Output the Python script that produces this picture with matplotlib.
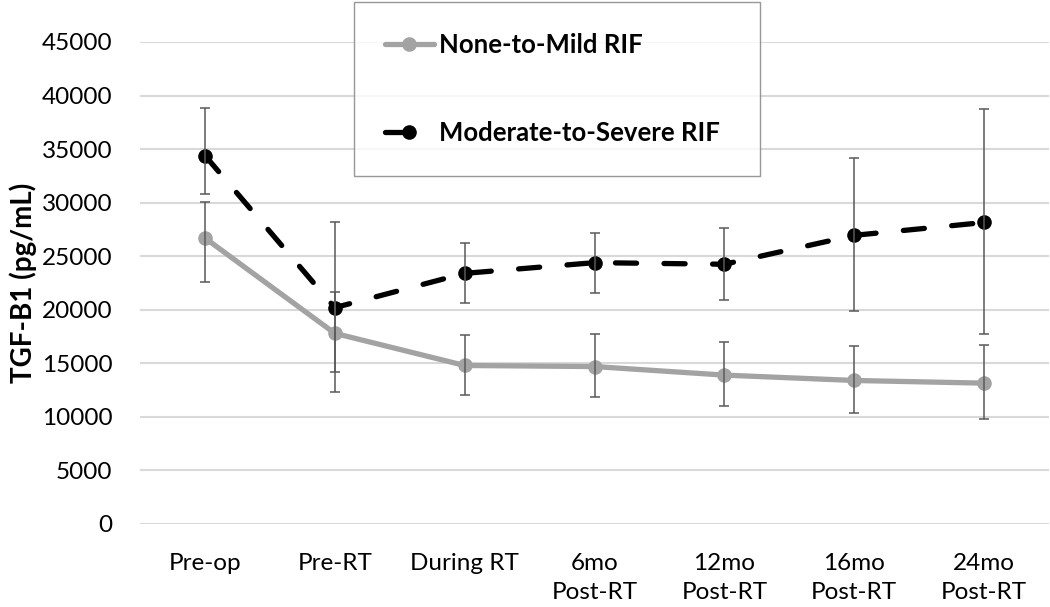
import numpy as np
import matplotlib.pyplot as plt
from matplotlib.lines import Line2D

# values
categories = ["Pre-op", "Pre-RT", "During RT", "6mo\nPost-RT",
              "12mo\nPost-RT", "16mo\nPost-RT", "24mo\nPost-RT"]

mild_mean = [26700, 17800, 14800, 14700, 13900, 13400, 13150]
mild_low = [22600, 12350, 12050, 11900, 11000, 10350, 9800]
mild_high = [30100, 21700, 17600, 17700, 16950, 16600, 16700]

severe_mean = [34400, 20200, 23400, 24400, 24250, 26950, 28150]
severe_low = [30800, 14200, 20600, 21600, 20900, 19850, 17700]
severe_high = [38850, 28200, 26250, 27150, 27600, 34200, 38750]

plt.rcParams['font.family'] = ['Lato', 'DejaVu Sans']

fig = plt.figure(figsize=(10.5, 6.07), dpi=100)
ax = fig.add_axes([140 / 1050, 1 - 524 / 607, 909 / 1050, 482 / 607])

x = np.arange(len(categories))
gray = '#A3A3A3'
err_col = '#595959'

mm = np.array(mild_mean)
sm = np.array(severe_mean)

ax.plot(x, mm, color=gray, lw=3.8, marker='o', ms=9.5,
        solid_capstyle='round', zorder=3)
ln, = ax.plot(x, sm, color='black', lw=3.8, marker='o', ms=9.5,
              dash_capstyle='round', zorder=3)
ln.set_dashes([4.0, 5.2])

ax.errorbar(x, mm, yerr=[mm - np.array(mild_low), np.array(mild_high) - mm],
            fmt='none', ecolor=err_col, elinewidth=1.1, capsize=3.5,
            capthick=1.1, zorder=4)
ax.errorbar(x, sm, yerr=[sm - np.array(severe_low), np.array(severe_high) - sm],
            fmt='none', ecolor=err_col, elinewidth=1.1, capsize=3.5,
            capthick=1.1, zorder=4)

ax.set_xlim(-0.5, len(categories) - 0.5)
ax.set_ylim(0, 45000)
ax.set_yticks(np.arange(0, 45001, 5000))
ax.set_xticks(x)
ax.set_xticklabels(categories, linespacing=1.45)
ax.tick_params(axis='both', length=0, labelsize=17.5, colors='black')
ax.tick_params(axis='y', pad=20)
ax.tick_params(axis='x', pad=21)

ax.grid(axis='y', color='#D9D9D9', lw=1.5, zorder=0)
ax.set_axisbelow(True)
for s in ax.spines.values():
    s.set_visible(False)

ax.set_ylabel('TGF-B1 (pg/mL)', fontsize=20, fontweight='bold', labelpad=3)

# legend proxies: the dashed series shows a single dash leading into the marker
h_mild = Line2D([], [], color=gray, lw=3.8, marker='o', ms=9.5,
                solid_capstyle='round')
h_sev = Line2D([], [], color='black', lw=3.8, marker='o', ms=9.5,
               dash_capstyle='round')
h_sev.set_dashes([3.6, 30])

leg = fig.legend([h_mild, h_sev], ['None-to-Mild RIF', 'Moderate-to-Severe RIF'],
                 loc='upper left',
                 bbox_to_anchor=(354 / 1050, 1 - 173 / 607, 406 / 1050, 171 / 607),
                 mode='expand', prop={'weight': 'bold', 'size': 18.5},
                 frameon=True, fancybox=False, edgecolor='#7F7F7F',
                 borderpad=1.2, labelspacing=2.5, handlelength=1.9,
                 handletextpad=0.2, borderaxespad=0)
leg.get_frame().set_linewidth(1.0)

fig.savefig('out.png', dpi=100)
